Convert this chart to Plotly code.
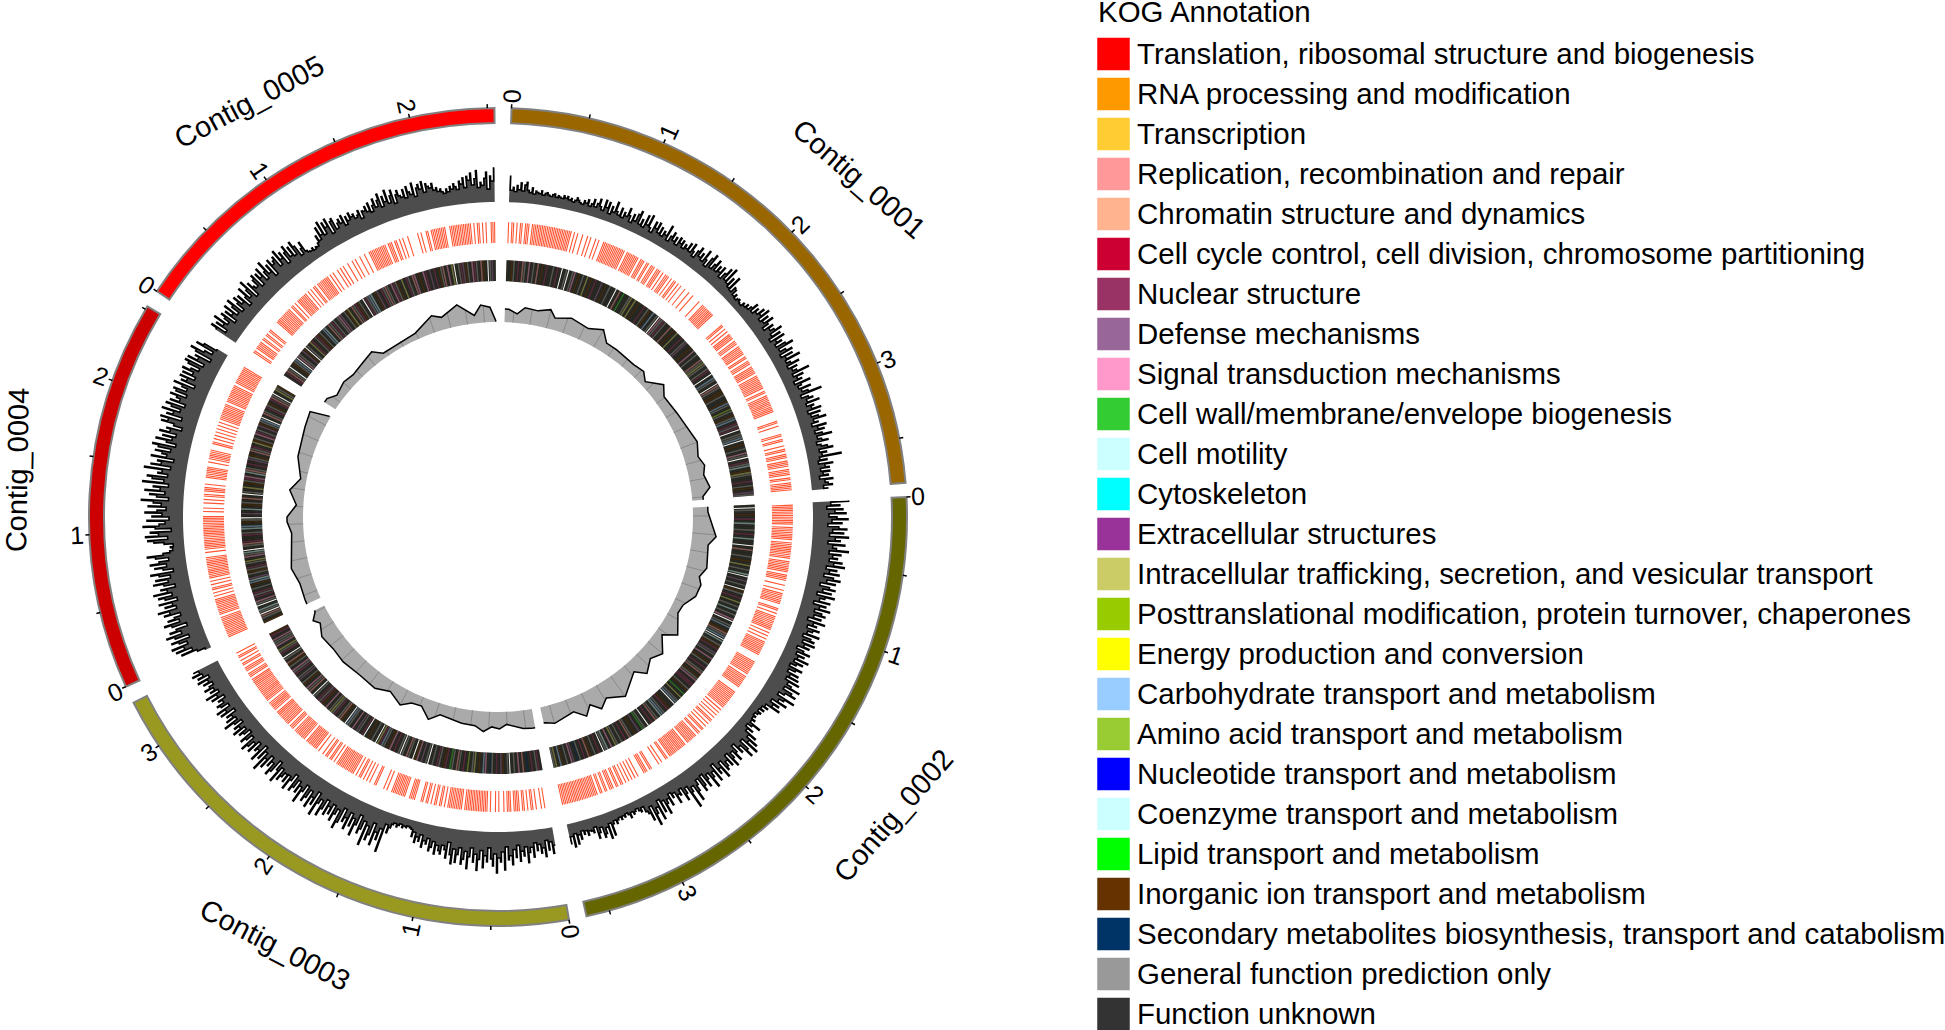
import numpy as np
import plotly.graph_objects as go

W, H = 1945, 1030
CX, CY, R = 498, 517, 430

contigs = ["Contig_0001", "Contig_0002", "Contig_0003", "Contig_0004", "Contig_0005"]
contig_start = [1.9, 87.2, 170.0, 245.5, 303.5]
contig_end = [85.2, 167.5, 243.0, 301.0, 359.5]
contig_color = ["#996600", "#666600", "#999922", "#CC0000", "#FF0000"]
contig_ticks = [[0, .5, 1, 1.5, 2, 2.5, 3, 3.5], [0, .5, 1, 1.5, 2, 2.5, 3, 3.5],
                [0, .5, 1, 1.5, 2, 2.5, 3], [0, .5, 1, 1.5, 2, 2.5], [0, .5, 1, 1.5, 2, 2.5]]
deg_per_mb = 22.0

# label: theta, radius, text angle
label_theta = [46.9, 127.1, 207.5, 275.6, 329.0]
label_r = [495, 495, 482, 483, 484]
label_angle = [41, -49, 27.5, -89, -28]

kog_names = [
    "Translation, ribosomal structure and biogenesis", "RNA processing and modification", "Transcription",
    "Replication, recombination and repair", "Chromatin structure and dynamics",
    "Cell cycle control, cell division, chromosome partitioning", "Nuclear structure", "Defense mechanisms",
    "Signal transduction mechanisms", "Cell wall/membrane/envelope biogenesis", "Cell motility", "Cytoskeleton",
    "Extracellular structures", "Intracellular trafficking, secretion, and vesicular transport",
    "Posttranslational modification, protein turnover, chaperones", "Energy production and conversion",
    "Carbohydrate transport and metabolism", "Amino acid transport and metabolism",
    "Nucleotide transport and metabolism", "Coenzyme transport and metabolism", "Lipid transport and metabolism",
    "Inorganic ion transport and metabolism", "Secondary metabolites biosynthesis, transport and catabolism",
    "General function prediction only", "Function unknown"]
kog_colors = ["#FF0000", "#FF9900", "#FFCC33", "#FF9999", "#FFB38F", "#CC0033", "#993366", "#996699", "#FF99CC",
              "#33CC33", "#CCFFFF", "#00FFFF", "#993399", "#CCCC66", "#99CC00", "#FFFF00", "#99CCFF", "#99CC33",
              "#0000FF", "#CCFFFF", "#00FF00", "#663300", "#003366", "#999999", "#333333"]
kog_letters = "ABCDEFGHIJKLMNOPQRSTUVWXY"

# track 2: height of the histogram above its baseline
depth_1 = [26,12,15,11,17,13,20,12,18,21,13,11,16,10,13,12,11,14,10,12,13,11,10,12,13,10,12,11,10,13,
           11,13,10,12,9,11,14,12,10,9,13,11,15,9,12,17,10,14,19,12,9,20,13,19,8,16,11,22,13,10,
           18,9,15,12,21,14,8,17,11,19,23,10,16,9,22,13,24,12,8,20,14,21,11,18,10,16,13,24,9,15,
           20,12,17,10,19,14,18,11,16,13,20,12,22,15,10,18,23,14,19,12,25,16,10,21,26,12,18,24,13,20,
           15,22,11,18,25,13,28,12,20,10,24,9,15,14,8,11,7,9,10,8,7,11,9,13,10,14,20,11,18,14,
           22,16,25,12,21,14,24,17,10,20,15,19,26,13,22,9,24,14,19,11,21,28,12,18,24,10,22,14,28,12,
           16,24,11,20,14,18,30,12,22,15,19,10,26,16,12,24,14,20,33,11,18,22,15,27,13,20,17,26,12,24,
           14,21,28,15,19,12,26,17,23,13,20,29,14,18,24,12,16,22,27,13,20,15,34,12,19,10,24,16,20,11,
           20,13,18,9,22,14,17,21,12,16]
depth_2 = [36,18,27,14,30,22,33,16,24,35,19,29,15,26,34,20,31,17,36,23,28,16,33,21,25,37,18,30,22,27,
           19,32,24,35,17,28,21,31,16,26,33,20,29,14,24,30,18,27,13,31,22,17,28,12,25,19,30,15,23,27,
           16,24,11,29,18,22,13,26,20,15,28,12,21,25,14,27,17,23,11,19,26,13,22,16,28,14,24,18,12,26,
           20,13,25,17,27,15,30,19,24,34,18,28,33,22,16,35,25,20,30,14,24,18,27,12,16,10,14,9,13,11,
           8,11,9,13,10,22,14,9,18,12,25,17,30,21,34,15,26,33,18,24,12,20,28,16,22,30,14,26,19,24,
           27,15,32,20,25,12,30,18,23,33,16,21,28,13,24,29,14,19,25,34,17,22,38,14,20,26,12,18,16,24,
           12,16,10,22,14,18,28,13,24,10,30,16,22,33,12,26,18,15,9,13,11,8,10,12,9,14,10,8,11,9,
           12,9,11,14,10,13,24,11,26,14,20,23,12,17,22,10,15,13,12,16,11,14,10,18,13,22,11,24,13,20]
depth_3 = [18,26,14,22,12,28,19,24,15,21,13,27,17,22,32,16,25,20,30,14,26,18,33,24,28,15,38,20,30,26,
           41,22,34,27,16,30,24,36,19,28,39,23,31,17,26,38,21,29,34,18,25,33,20,35,26,14,30,22,18,27,
           24,19,28,16,22,26,14,20,17,24,12,19,15,21,11,16,9,8,7,9,8,10,7,9,11,8,10,14,20,12,
           41,18,30,23,37,15,28,34,20,41,17,26,31,13,24,36,19,28,15,33,22,27,14,30,37,18,24,32,16,27,
           20,30,15,26,34,18,23,37,13,28,21,33,16,25,30,14,22,35,19,27,15,24,29,12,20,31,17,26,18,23,
           28,16,33,21,12,26,31,18,24,14,29,20,35,15,25,11,30,19,22,13,27,17,24,30,14,21,26,12,19,23,
           14,27,18,23,12,20,30,15,25,17,22,11,26,19,28,13,21,24,16,20,12,25,18,29,14,22,17,26,20,15,
           24,18,28,15,26,20,30,22,27]
depth_4 = [6,14,30,18,34,25,37,20,28,35,16,30,38,22,33,26,14,29,36,20,31,24,17,33,27,38,19,30,22,35,
           16,28,34,20,38,24,30,15,26,36,21,33,18,29,37,14,24,32,20,36,27,17,30,38,22,15,12,14,11,20,
           30,36,16,38,25,33,12,28,40,24,18,36,14,31,21,38,26,17,35,22,30,42,15,27,34,19,39,24,31,16,
           42,21,33,38,18,28,24,42,16,36,26,30,14,37,22,27,34,19,32,38,15,25,36,20,30,17,34,24,28,13,
           22,35,29,37,16,32,26,38,20,30,36,17,33,24,28,35,19,31,34,21,27,36,15,30,25,33,18,32,22,34,
           26,18,31,35,16,34,24,28,12,30,36,22,14,33,26,12]
depth_5 = [24,30,14,27,20,32,17,23,28,12,26,19,30,15,24,31,13,22,28,18,26,11,20,30,16,24,33,12,27,21,
           18,26,30,15,28,22,31,16,24,34,19,27,13,30,23,26,29,17,33,22,28,14,25,31,18,27,16,30,24,12,
           18,24,13,11,10,12,9,11,10,13,20,14,27,18,31,16,28,22,30,13,25,27,15,20,23,18,25,14,22,17,
           24,19,21,16,18,22,13,20,19,23,17,25,15,21,27,18,24,30,16,26,20,31,17,24,29,15,23,27,21,19,
           26,17,28,22,19,30,16,24,27,22,29,18,26,23,21,25,18,20,16,18,15,13,17,14,19,16,21,18,15,23,
           20,26,16,27,23,30,18,24,32,15,20,17,24,30,13,26,21,34]

# track 3: presence of a gene on the strand, per angular bin
genes_1 = ("101101011011101111111111111111" "111111110101001001010010100111" "111111111110111111110111011011"
           "101110101110101101010010010010" "000100111111111000000011010101" "111011101111110110111011111011"
           "111111101101111111111100000110" "100001101100101101110111101111" "0110111110")
genes_2 = ("011111111111101111111101111111" "111011111110111100100101111111" "001101011111111101010101111111"
           "110000111111111011111111000111" "111111111010101010110101011011" "011111110111111111111011001010"
           "000110111000101010101011011011" "101101101111111111111111111111")
genes_3 = ("001010010110101101111011101001" "010010111111111111110111111111" "010110110101101100011110011111"
           "111100101000011001010101101011" "111111111101011011010010111111" "110111111110111011111111110111"
           "111011111111111111110111011101" "101011010")
genes_4 = ("011111111111110111111111101010" "110101011111111111110010111111" "111111111111110010100101011011"
           "101000111111100101111110001101" "010101010101111111111011111111" "1110111111111110")
genes_5 = ("011011111011011011000001111111" "111101101011111110101011011111" "111010100101010010010100100100"
           "111111111110111011010100100000" "101001101111111110011111111111" "1101011010100111")

# track 4: KOG class of the gene in each angular bin ('.' = no gene)
kog_1 = ("YYVXYGYDXYIYXYDYVYGY" "YXYGY.YX.YXIYVYXYNYV" "YGYYHYVYXYY.YDYJYYXN" "YNYVYYGYXVYQYX.IXGXY"
         "YDYVYNYYGYXHYYVYIYXY" "YDXNXYXGY.YQXY.DXYVV" "XYYVQXYRXYVXQYGXG.YX" "XQ.YVYXYIX.YGXKYVNXY" "YGYXVYHX")
kog_2 = ("Y.XYVYGYKYYXYGYKYY.Y" "DYYXYVYNYXYK.YHYXY.V" "XYGYNYXYKYXYI.YXQYVD" "XQ.KYXVGYHXYIYVXYGYX"
         "DYVXIYGGYXVYJYNYXQ.Y" "YVGYXQKYXDYGY.YXJYHY" "VYXDYGYXYXNYIYKX.YGY" "XYVDYGYXWYHIYXYVQYNX")
kog_3 = ("YGXYGYWYDYIYXY.XYVHY" "GYXWYIQYVYNXYRYGYXDY" "XJYGVYXGYXY.XYHYIV.Y" "XDYX.XYGYIVYXQGN.YXY"
         "VY.GYXHYIYXQ.YVDXYGX" "NXYIYVGXGYX.YDXIYVXY" "HXYGXIYXVDYX.YGXNYIX" "XIYGV")
kog_4 = ("VYXD.XKY.XIYGXGYXYVQ" "KHYXVXGYXNYIXK.YXDGY" "YGXYKQYVX.YHYKYVXYDY" ".XYNYVXGIYKDXYGYHXVY"
         "DXGYNVXYIGXYHVXQ.YDX" "YGXVYGDX.YNXV")
kog_5 = ("YGDX.YVXQ.IXYHV.XYNG" "YXGVXYQKYDXGXYXIHYXV" "NYDXGVXY.GXQKYVHYGXD" "XYIGXVYNYGXYDIYVYIGY"
         "HYGYVXDYIYN.YXGHVXYI" "GXYDVY.XHY")

# track 5: (angle, radius) of the outer line
gc_theta_1 = [3, 5.4, 7.4, 11, 14.3, 16, 20.3, 25.6, 29.4, 32, 35.4, 41.7, 45, 47.4, 51.4, 54.1, 59.9, 69.3, 73.2, 75.9, 78.4, 82, 84.3]
gc_r_1 = [208, 204, 211, 210, 214, 207, 212, 209, 215, 205, 205, 204, 206, 200, 212, 205, 207, 213, 209, 213, 210, 214, 206]
gc_theta_2 = [88.6, 95.2, 97.6, 103.8, 106.5, 108.5, 111.9, 115.4, 118.1, 123.3, 125.7, 129.7, 132.9, 136.4, 138.7, 144.6, 149.1, 151.6, 153.9, 156, 158.8, 164.6, 167.1]
gc_r_2 = [210, 219, 212, 215, 210, 214, 213, 205, 204, 215, 202, 214, 208, 216, 206, 220, 211, 218, 209, 218, 209, 214, 211]
gc_theta_3 = [171, 173.2, 177.6, 179.6, 181.7, 183.9, 186.3, 190, 196.3, 199, 202, 204.9, 207.5, 211.7, 215.7, 221.1, 226.9, 231.4, 235.8, 239.2, 240.7, 242.6]
gc_r_3 = [214, 213, 207.6, 212, 210, 215, 210, 209.5, 206, 214, 204, 205, 212, 205, 211, 210, 212, 211, 213, 207, 212, 206]
gc_theta_4 = [246.7, 251.5, 256, 265.5, 268.7, 270, 273.4, 277.4, 281, 286.8, 295, 299.3, 300.8]
gc_r_4 = [210, 209, 213, 207, 211, 211, 202, 210, 201, 209, 213, 215.5, 197]
gc_theta_5 = [304.7, 307.1, 311.2, 314.5, 318.4, 322.6, 325, 335.7, 341.7, 344.2, 349, 353.3, 355.3, 357.8, 359.4]
gc_r_5 = [208, 202, 205, 203, 205, 208, 200, 201.5, 212, 207.5, 216, 203, 212.7, 210, 196]

all_depth = [depth_1, depth_2, depth_3, depth_4, depth_5]
all_genes = [genes_1, genes_2, genes_3, genes_4, genes_5]
all_kog = [kog_1, kog_2, kog_3, kog_4, kog_5]
all_gc = [(gc_theta_1, gc_r_1), (gc_theta_2, gc_r_2), (gc_theta_3, gc_r_3), (gc_theta_4, gc_r_4), (gc_theta_5, gc_r_5)]

RING_IN, RING_H = 394, 15
DEPTH_BASE = 315
GENE_IN, GENE_H = 274, 21
KOG_IN, KOG_H = 236, 21
GC_BASE = 195
FONT = "Liberation Sans"

fig = go.Figure()

# outer ideogram
fig.add_trace(go.Barpolar(
    r=[RING_H] * 5, base=[RING_IN] * 5,
    theta=[(a + b) / 2 for a, b in zip(contig_start, contig_end)],
    width=[b - a for a, b in zip(contig_start, contig_end)],
    marker=dict(color=contig_color, line=dict(color="#808080", width=2)), hoverinfo="skip"))

# ticks
tt, tr = [], []
annotations = []


def to_paper(theta, r):
    t = np.radians(theta)
    return (CX + r * np.sin(t)) / W, 1 - (CY - r * np.cos(t)) / H


for s, ticks in zip(contig_start, contig_ticks):
    for v in ticks:
        th = s + v * deg_per_mb
        tt += [th, th, None]
        tr += [RING_IN + RING_H, RING_IN + RING_H + 4, None]
        if float(v).is_integer():
            x, y = to_paper(th, 421)
            ang = th - 90 if th % 360 < 180 else th + 90 - 360
            annotations.append(dict(x=x, y=y, xref="paper", yref="paper", text=str(int(v)), showarrow=False,
                                    textangle=ang, font=dict(family=FONT, size=25, color="black"),
                                    xanchor="center", yanchor="middle"))
fig.add_trace(go.Scatterpolar(theta=tt, r=tr, mode="lines", line=dict(color="black", width=1.5), hoverinfo="skip"))

for name, th, r, ang in zip(contigs, label_theta, label_r, label_angle):
    x, y = to_paper(th, r)
    annotations.append(dict(x=x, y=y, xref="paper", yref="paper", text=name, showarrow=False, textangle=ang,
                            font=dict(family=FONT, size=29, color="black"), xanchor="center", yanchor="middle"))

# tracks per contig
gene_theta = []
kog_theta = {c: [] for c in kog_letters + "."}
kog_bg_t, kog_bg_w = [], []

for i, (s, e) in enumerate(zip(contig_start, contig_end)):
    # histogram: needle per value, with a valley at the lower neighbour between bins
    vals = all_depth[i]
    w = (e - s) / len(vals)
    st, sr = [], []
    for j, v in enumerate(vals):
        c = s + (j + .5) * w
        left = min(v, vals[j - 1]) if j else v
        right = min(v, vals[j + 1]) if j + 1 < len(vals) else v
        st += [c - .22 * w, c - .22 * w, c + .22 * w, c + .22 * w]
        sr += [DEPTH_BASE + left, DEPTH_BASE + v, DEPTH_BASE + v, DEPTH_BASE + right]
    bt = list(np.linspace(st[-1], st[0], 60))
    fig.add_trace(go.Scatterpolar(theta=st + bt, r=sr + [DEPTH_BASE] * 60, mode="lines", fill="toself",
                                  fillcolor="#4d4d4d", line=dict(width=0, color="#4d4d4d"), hoverinfo="skip"))
    fig.add_trace(go.Scatterpolar(theta=st, r=sr, mode="lines", line=dict(color="black", width=1.6), hoverinfo="skip"))

    # genes
    g = all_genes[i]
    step = (e - s) / len(g)
    for j, c in enumerate(g):
        if c == "1":
            gene_theta.append(s + (j + .5) * step)

    # KOG colours
    k = all_kog[i]
    step = (e - s) / len(k)
    for j, c in enumerate(k):
        kog_theta[c].append(s + (j + .5) * step)
    kog_bg_t.append((s + e) / 2)
    kog_bg_w.append(e - s)

    # GC curve
    gt, gr = all_gc[i]
    gt = [s] + gt + [e] if gt[0] > s and gt[-1] < e else gt
    gr = ([gr[0]] + gr + [gr[-1]]) if len(gt) != len(gr) else gr
    bt = list(np.linspace(gt[-1], gt[0], 40))
    fig.add_trace(go.Scatterpolar(theta=gt + bt, r=gr + [GC_BASE] * 40, mode="lines", fill="toself",
                                  fillcolor="#aaaaaa", line=dict(width=0, color="#aaaaaa"), hoverinfo="skip"))
    grid_t, grid_r = [], []
    for th in np.arange(s + 2.5, e, 5.0):
        grid_t += [th, th, None]
        grid_r += [GC_BASE, float(np.interp(th, gt, gr)), None]
    fig.add_trace(go.Scatterpolar(theta=grid_t, r=grid_r, mode="lines", line=dict(color="#8a8a8a", width=1), hoverinfo="skip"))
    fig.add_trace(go.Scatterpolar(theta=gt, r=gr, mode="lines", line=dict(color="black", width=1.5), hoverinfo="skip"))

fig.add_trace(go.Barpolar(r=[GENE_H] * len(gene_theta), base=[GENE_IN] * len(gene_theta), theta=gene_theta,
                          width=[0.22] * len(gene_theta), marker=dict(color="#FF5533", line=dict(width=0)), hoverinfo="skip"))
fig.add_trace(go.Barpolar(r=[KOG_H] * 5, base=[KOG_IN] * 5, theta=kog_bg_t, width=kog_bg_w,
                          marker=dict(color="#23231c", line=dict(width=0)), hoverinfo="skip"))
for c, color in zip(kog_letters, kog_colors):
    if kog_theta[c]:
        n = len(kog_theta[c])
        fig.add_trace(go.Barpolar(r=[KOG_H] * n, base=[KOG_IN] * n, theta=kog_theta[c], width=[0.36] * n, opacity=0.42,
                                  marker=dict(color=color, line=dict(width=0)), hoverinfo="skip"))
n = len(kog_theta["."])
fig.add_trace(go.Barpolar(r=[KOG_H] * n, base=[KOG_IN] * n, theta=kog_theta["."], width=[0.24] * n,
                          marker=dict(color="#f2f2f2", line=dict(width=0)), hoverinfo="skip"))

# legend drawn on a page-sized cartesian layer
rows = [54 + 40 * i for i in range(len(kog_names))]
text_rows = [y + 3 for y in rows]
fig.add_trace(go.Scatter(x=[1113.5] * len(rows), y=rows, mode="markers", xaxis="x", yaxis="y",
                         marker=dict(symbol="square", size=32.5, color=kog_colors, line=dict(width=0)), hoverinfo="skip"))
fig.add_trace(go.Scatter(x=[1137] * len(rows), y=text_rows, mode="text", text=kog_names, textposition="middle right",
                         textfont=dict(family=FONT, size=29.45, color="black"), xaxis="x", yaxis="y", hoverinfo="skip"))
fig.add_trace(go.Scatter(x=[1098], y=[15], mode="text", text=["KOG Annotation"], textposition="middle right",
                         textfont=dict(family=FONT, size=29.45, color="black"), xaxis="x", yaxis="y", hoverinfo="skip"))

fig.update_layout(
    width=W, height=H, margin=dict(l=0, r=0, t=0, b=0), showlegend=False,
    paper_bgcolor="white", plot_bgcolor="rgba(0,0,0,0)",
    annotations=annotations,
    xaxis=dict(range=[0, W], domain=[0, 1], visible=False, fixedrange=True),
    yaxis=dict(range=[H, 0], domain=[0, 1], visible=False, fixedrange=True),
    polar=dict(
        domain=dict(x=[(CX - R) / W, (CX + R) / W], y=[1 - (CY + R) / H, 1 - (CY - R) / H]),
        bgcolor="rgba(0,0,0,0)", barmode="overlay",
        radialaxis=dict(range=[0, R], visible=False, showgrid=False),
        angularaxis=dict(direction="clockwise", rotation=90, visible=False, showgrid=False),
    ),
)

fig.write_html("out.html", config=dict(displayModeBar=False),
               post_script="document.body.style.margin='0';document.documentElement.style.overflow='hidden';")
